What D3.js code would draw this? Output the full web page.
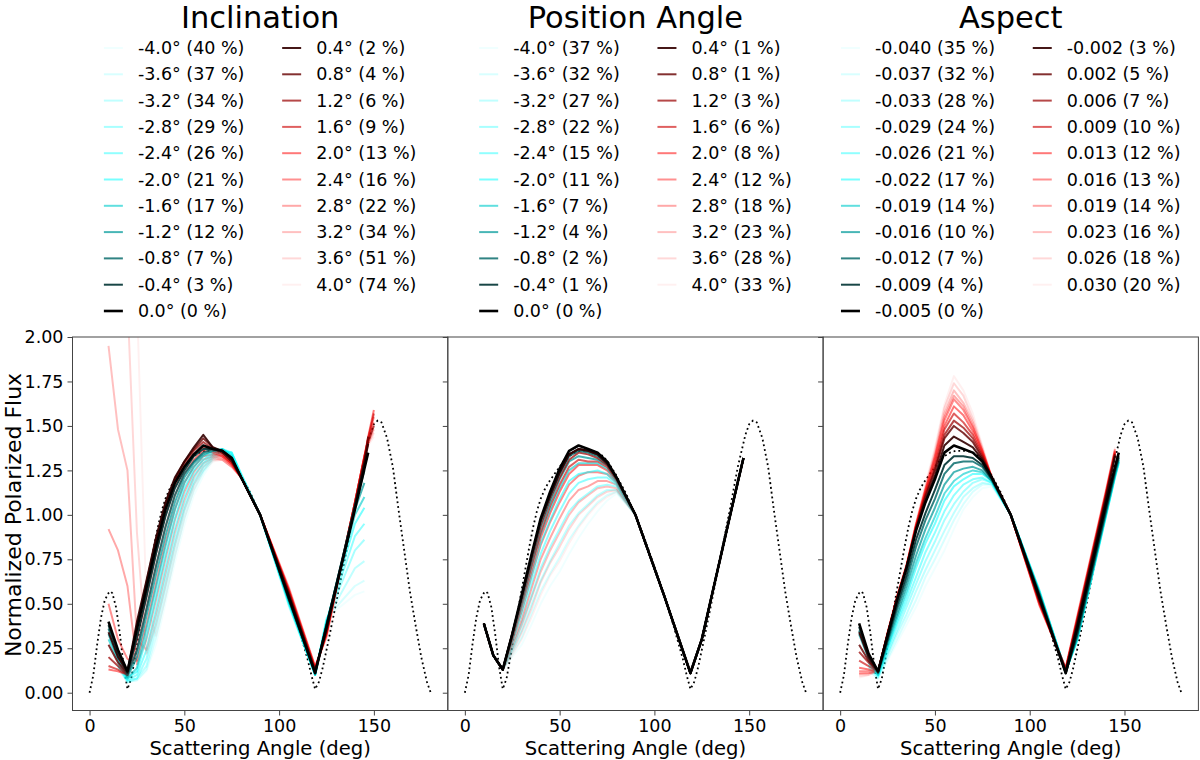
<!DOCTYPE html>
<html><head><meta charset="utf-8">
<script src="https://cdn.jsdelivr.net/npm/d3@7"></script>
<style>body{margin:0;background:#fff;} svg{display:block;font-family:"DejaVu Sans",sans-serif;}</style>
</head><body>
<svg id="chart" width="1200" height="760"></svg>
<script>
// ---------- data ----------
const angles = [10,15,20,25,30,35,40,45,50,55,60,65,70,75,80,90,105,119,125,140,145,147,150];

const panelTitles = ["Inclination", "Position Angle", "Aspect"];

const inclinationLabels = ["-4.0° (40 %)","-3.6° (37 %)","-3.2° (34 %)","-2.8° (29 %)","-2.4° (26 %)","-2.0° (21 %)","-1.6° (17 %)","-1.2° (12 %)","-0.8° (7 %)","-0.4° (3 %)","0.0° (0 %)",
  "0.4° (2 %)","0.8° (4 %)","1.2° (6 %)","1.6° (9 %)","2.0° (13 %)","2.4° (16 %)","2.8° (22 %)","3.2° (34 %)","3.6° (51 %)","4.0° (74 %)"];
const positionLabels = ["-4.0° (37 %)","-3.6° (32 %)","-3.2° (27 %)","-2.8° (22 %)","-2.4° (15 %)","-2.0° (11 %)","-1.6° (7 %)","-1.2° (4 %)","-0.8° (2 %)","-0.4° (1 %)","0.0° (0 %)",
  "0.4° (1 %)","0.8° (1 %)","1.2° (3 %)","1.6° (6 %)","2.0° (8 %)","2.4° (12 %)","2.8° (18 %)","3.2° (23 %)","3.6° (28 %)","4.0° (33 %)"];
const aspectLabels = ["-0.040 (35 %)","-0.037 (32 %)","-0.033 (28 %)","-0.029 (24 %)","-0.026 (21 %)","-0.022 (17 %)","-0.019 (14 %)","-0.016 (10 %)","-0.012 (7 %)","-0.009 (4 %)","-0.005 (0 %)",
  "-0.002 (3 %)","0.002 (5 %)","0.006 (7 %)","0.009 (10 %)","0.013 (12 %)","0.016 (13 %)","0.019 (14 %)","0.023 (16 %)","0.026 (18 %)","0.030 (20 %)"];

const inclinationFlux = [
 [null,0.14,0.06,0.07,0.12,0.27,0.50,0.73,0.94,1.11,1.22,1.30,1.34,1.35,1.23,1.00,0.49,0.10,0.42,0.55,0.57,null,null],
 [null,0.14,0.06,0.07,0.13,0.31,0.54,0.77,0.98,1.14,1.24,1.31,1.35,1.35,1.23,1.00,0.49,0.10,0.42,0.60,0.63,null,null],
 [null,0.15,0.06,0.08,0.15,0.36,0.59,0.82,1.02,1.17,1.25,1.32,1.36,1.35,1.23,1.00,0.50,0.10,0.41,0.70,0.74,null,null],
 [null,0.15,0.07,0.08,0.19,0.41,0.64,0.86,1.05,1.19,1.27,1.33,1.36,1.35,1.23,1.00,0.50,0.10,0.41,0.80,0.86,null,null],
 [null,0.16,0.07,0.10,0.24,0.47,0.70,0.92,1.10,1.22,1.29,1.34,1.37,1.35,1.22,1.00,0.51,0.10,0.40,0.88,0.95,null,null],
 [null,0.17,0.08,0.12,0.31,0.54,0.77,0.98,1.15,1.25,1.31,1.35,1.37,1.34,1.22,1.00,0.51,0.10,0.40,0.95,1.04,null,null],
 [0.30,0.18,0.08,0.14,0.36,0.59,0.82,1.03,1.18,1.27,1.33,1.36,1.37,1.33,1.21,1.00,0.52,0.10,0.39,1.00,1.10,null,null],
 [0.33,0.19,0.09,0.20,0.43,0.66,0.88,1.07,1.21,1.29,1.34,1.36,1.36,1.32,1.21,1.00,0.52,0.11,0.39,1.03,1.18,null,null],
 [0.36,0.21,0.10,0.24,0.47,0.71,0.93,1.11,1.23,1.30,1.35,1.37,1.36,1.32,1.21,1.00,0.53,0.11,0.38,1.05,1.25,null,null],
 [0.38,0.22,0.11,0.31,0.54,0.78,0.99,1.15,1.25,1.33,1.37,1.37,1.36,1.32,1.21,1.00,0.53,0.11,0.38,1.05,1.29,null,null],
 [0.40,0.24,0.12,0.36,0.59,0.82,1.03,1.18,1.27,1.34,1.39,1.37,1.36,1.32,1.21,1.00,0.54,0.11,0.37,1.03,1.26,1.35,null],
 [0.34,0.20,0.12,0.40,0.63,0.87,1.07,1.21,1.30,1.38,1.45,1.38,1.36,1.31,1.21,1.00,0.55,0.12,0.36,1.04,1.29,1.40,null],
 [0.27,0.17,0.11,0.38,0.62,0.86,1.06,1.20,1.30,1.37,1.43,1.38,1.35,1.30,1.21,1.00,0.56,0.12,0.35,1.05,1.30,1.44,null],
 [0.20,0.15,0.10,0.35,0.59,0.83,1.04,1.19,1.29,1.36,1.41,1.37,1.35,1.30,1.21,1.00,0.57,0.13,0.34,1.06,1.31,1.41,1.50],
 [0.15,0.13,0.10,0.30,0.54,0.78,1.00,1.16,1.27,1.34,1.38,1.36,1.34,1.29,1.21,1.00,0.57,0.13,0.34,1.07,1.32,1.43,1.57],
 [0.13,0.12,0.10,0.24,0.47,0.71,0.93,1.11,1.23,1.31,1.36,1.35,1.33,1.29,1.21,1.00,0.58,0.14,0.33,1.07,1.33,1.44,1.59],
 [0.50,0.30,0.19,0.18,0.38,0.61,0.84,1.03,1.18,1.27,1.33,1.34,1.33,1.28,1.21,1.00,0.58,0.14,0.33,1.07,1.33,1.43,1.55],
 [0.92,0.80,0.60,0.16,0.30,0.52,0.75,0.97,1.13,1.24,1.31,1.33,1.32,1.28,1.21,1.00,0.59,0.14,0.32,1.07,1.33,1.42,1.52],
 [1.95,1.48,1.25,0.30,0.24,0.44,0.67,0.90,1.08,1.21,1.29,1.32,1.31,1.27,1.21,1.00,0.59,0.15,0.32,1.07,1.33,1.40,1.48],
 [3.00,2.60,2.20,0.90,0.22,0.38,0.60,0.83,1.03,1.17,1.27,1.31,1.31,1.27,1.21,1.00,0.60,0.15,0.31,1.07,1.33,1.40,1.46],
 [3.50,3.00,2.60,2.20,0.50,0.32,0.53,0.77,0.98,1.14,1.25,1.30,1.31,1.27,1.21,1.00,0.60,0.15,0.31,1.07,1.32,1.39,1.44]
];

const positionFlux = [
 [0.39,0.21,0.13,0.20,0.27,0.38,0.50,0.60,0.68,0.78,0.87,0.95,1.02,1.08,1.12,1.00,0.55,0.12,0.30,1.00,1.23,1.32,null],
 [0.39,0.21,0.13,0.22,0.31,0.44,0.57,0.67,0.76,0.86,0.94,1.01,1.07,1.11,1.13,1.00,0.55,0.12,0.30,1.00,1.23,1.32,null],
 [0.39,0.21,0.13,0.24,0.35,0.49,0.63,0.74,0.84,0.94,1.01,1.06,1.11,1.14,1.14,1.00,0.55,0.12,0.30,1.00,1.23,1.32,null],
 [0.39,0.21,0.13,0.25,0.39,0.54,0.70,0.82,0.92,1.02,1.08,1.12,1.16,1.17,1.16,1.00,0.55,0.11,0.30,1.00,1.23,1.32,null],
 [0.39,0.21,0.13,0.28,0.44,0.61,0.78,0.91,1.02,1.12,1.18,1.20,1.21,1.21,1.17,1.00,0.55,0.11,0.30,1.00,1.23,1.32,null],
 [0.39,0.21,0.13,0.29,0.47,0.65,0.84,0.97,1.09,1.19,1.23,1.24,1.25,1.23,1.18,1.00,0.55,0.11,0.30,1.00,1.23,1.32,null],
 [0.39,0.21,0.13,0.31,0.50,0.70,0.89,1.03,1.15,1.25,1.29,1.29,1.29,1.26,1.19,1.00,0.55,0.11,0.30,1.00,1.23,1.32,null],
 [0.39,0.21,0.13,0.32,0.52,0.73,0.93,1.07,1.20,1.30,1.33,1.32,1.31,1.28,1.20,1.00,0.55,0.11,0.30,1.00,1.23,1.32,null],
 [0.39,0.21,0.13,0.32,0.54,0.75,0.96,1.10,1.23,1.33,1.36,1.35,1.33,1.29,1.21,1.00,0.55,0.11,0.30,1.00,1.23,1.32,null],
 [0.39,0.21,0.13,0.33,0.54,0.76,0.97,1.11,1.24,1.34,1.37,1.36,1.34,1.29,1.21,1.00,0.55,0.11,0.30,1.00,1.23,1.32,null],
 [0.39,0.21,0.13,0.33,0.55,0.77,0.98,1.13,1.26,1.36,1.39,1.37,1.35,1.30,1.21,1.00,0.55,0.11,0.30,1.00,1.23,1.32,null],
 [0.39,0.21,0.13,0.33,0.54,0.76,0.97,1.11,1.24,1.34,1.37,1.36,1.34,1.29,1.21,1.00,0.55,0.11,0.30,1.00,1.23,1.32,null],
 [0.39,0.21,0.13,0.33,0.54,0.76,0.97,1.11,1.24,1.34,1.37,1.36,1.34,1.29,1.21,1.00,0.55,0.11,0.30,1.00,1.23,1.32,null],
 [0.39,0.21,0.13,0.32,0.53,0.74,0.94,1.09,1.21,1.31,1.35,1.34,1.32,1.28,1.20,1.00,0.55,0.11,0.30,1.00,1.23,1.32,null],
 [0.39,0.21,0.13,0.31,0.51,0.71,0.90,1.05,1.17,1.27,1.31,1.30,1.30,1.27,1.20,1.00,0.55,0.11,0.30,1.00,1.23,1.32,null],
 [0.39,0.21,0.13,0.30,0.49,0.68,0.87,1.01,1.13,1.23,1.28,1.28,1.28,1.25,1.19,1.00,0.55,0.11,0.30,1.00,1.23,1.32,null],
 [0.39,0.21,0.13,0.29,0.46,0.65,0.83,0.96,1.07,1.17,1.22,1.24,1.24,1.23,1.18,1.00,0.55,0.11,0.30,1.00,1.23,1.32,null],
 [0.39,0.21,0.13,0.27,0.41,0.58,0.75,0.87,0.98,1.08,1.14,1.16,1.19,1.19,1.17,1.00,0.55,0.11,0.30,1.00,1.23,1.32,null],
 [0.39,0.21,0.13,0.25,0.38,0.53,0.68,0.80,0.90,1.00,1.07,1.11,1.15,1.16,1.15,1.00,0.55,0.12,0.30,1.00,1.23,1.32,null],
 [0.39,0.21,0.13,0.23,0.34,0.47,0.62,0.73,0.82,0.92,1.00,1.05,1.10,1.13,1.14,1.00,0.55,0.12,0.30,1.00,1.23,1.32,null],
 [0.39,0.21,0.13,0.21,0.30,0.42,0.55,0.66,0.74,0.84,0.93,1.00,1.06,1.10,1.13,1.00,0.55,0.12,0.30,1.00,1.23,1.32,null]
];

const aspectFlux = [
 [null,0.12,0.08,0.18,0.28,0.38,0.48,0.60,0.70,0.80,0.92,1.03,1.10,1.15,1.16,1.00,0.58,0.12,0.29,0.98,1.21,1.29,null],
 [null,0.13,0.08,0.19,0.30,0.41,0.52,0.65,0.75,0.86,0.97,1.06,1.13,1.17,1.17,1.00,0.58,0.12,0.29,0.98,1.21,1.29,null],
 [null,0.14,0.09,0.21,0.33,0.44,0.57,0.69,0.80,0.91,1.01,1.10,1.15,1.18,1.17,1.00,0.58,0.12,0.29,0.98,1.21,1.29,null],
 [null,0.15,0.09,0.22,0.35,0.48,0.61,0.74,0.85,0.97,1.06,1.13,1.18,1.20,1.18,1.00,0.58,0.12,0.29,0.98,1.21,1.29,null],
 [null,0.16,0.10,0.24,0.38,0.51,0.65,0.79,0.90,1.02,1.11,1.17,1.20,1.21,1.18,1.00,0.57,0.12,0.30,0.99,1.22,1.30,null],
 [null,0.17,0.10,0.25,0.40,0.54,0.70,0.84,0.95,1.08,1.16,1.20,1.23,1.23,1.19,1.00,0.57,0.12,0.30,0.99,1.22,1.30,null],
 [null,0.18,0.10,0.26,0.42,0.57,0.73,0.87,0.99,1.12,1.19,1.23,1.25,1.24,1.19,1.00,0.57,0.12,0.30,0.99,1.22,1.30,null],
 [0.33,0.19,0.11,0.28,0.44,0.60,0.77,0.92,1.04,1.17,1.24,1.26,1.27,1.25,1.19,1.00,0.56,0.12,0.31,1.00,1.23,1.31,null],
 [0.35,0.20,0.11,0.29,0.47,0.63,0.82,0.97,1.09,1.23,1.29,1.30,1.30,1.27,1.20,1.00,0.56,0.11,0.32,1.01,1.24,1.32,null],
 [0.37,0.21,0.12,0.30,0.49,0.66,0.86,1.01,1.14,1.28,1.33,1.33,1.32,1.28,1.20,1.00,0.55,0.11,0.33,1.02,1.25,1.33,null],
 [0.39,0.22,0.12,0.32,0.52,0.70,0.91,1.07,1.20,1.35,1.39,1.37,1.35,1.30,1.21,1.00,0.54,0.11,0.36,1.05,1.27,1.35,null],
 [0.34,0.20,0.12,0.33,0.53,0.70,0.92,1.08,1.22,1.39,1.44,1.41,1.38,1.31,1.21,1.00,0.53,0.12,0.38,1.08,1.33,null,null],
 [0.27,0.18,0.12,0.33,0.53,0.71,0.92,1.10,1.25,1.43,1.50,1.46,1.41,1.32,1.21,1.00,0.52,0.12,0.39,1.09,1.34,null,null],
 [0.23,0.17,0.12,0.33,0.53,0.71,0.93,1.11,1.26,1.45,1.53,1.49,1.43,1.33,1.21,1.00,0.52,0.13,0.40,1.10,1.34,null,null],
 [0.18,0.15,0.12,0.33,0.53,0.71,0.93,1.12,1.28,1.48,1.57,1.52,1.45,1.34,1.21,1.00,0.51,0.13,0.40,1.10,1.35,null,null],
 [0.14,0.13,0.12,0.33,0.53,0.71,0.94,1.13,1.30,1.50,1.61,1.56,1.47,1.35,1.21,1.00,0.51,0.13,0.41,1.11,1.35,null,null],
 [0.12,0.12,0.12,0.33,0.54,0.71,0.94,1.14,1.32,1.53,1.65,1.59,1.49,1.36,1.21,1.00,0.50,0.13,0.41,1.11,1.36,null,null],
 [0.11,0.11,0.12,0.33,0.54,0.71,0.94,1.14,1.33,1.55,1.67,1.61,1.50,1.36,1.21,1.00,0.50,0.14,0.42,1.12,1.36,null,null],
 [0.105,0.11,0.12,0.34,0.54,0.72,0.95,1.15,1.34,1.57,1.70,1.63,1.52,1.37,1.21,1.00,0.50,0.14,0.42,1.12,1.37,null,null],
 [0.095,0.10,0.12,0.34,0.54,0.72,0.95,1.16,1.36,1.60,1.74,1.67,1.54,1.38,1.21,1.00,0.49,0.14,0.43,1.13,1.37,null,null],
 [0.085,0.10,0.12,0.34,0.55,0.72,0.96,1.17,1.38,1.62,1.78,1.70,1.57,1.39,1.21,1.00,0.49,0.14,0.43,1.13,1.38,null,null]
];

// reference (dotted) curve
const refAngles = [0,2,4,6,8,10,11,12,14,16,18,20,22,24,26,28,30,32,34,36,38,40,42,44,46,48,50,52,55,58,61,64,67,70,73,76,80,85,90,95,100,105,110,115,117,119,121,123,126,130,135,140,144,148,150,152,154,157,160,163,166,169,172,175,178,180];
const refFlux   = [0,0.10,0.27,0.42,0.52,0.56,0.57,0.56,0.48,0.33,0.15,0.02,0.08,0.20,0.33,0.46,0.58,0.70,0.82,0.93,1.02,1.09,1.14,1.18,1.21,1.24,1.27,1.30,1.33,1.35,1.36,1.36,1.36,1.35,1.33,1.29,1.22,1.12,1.00,0.86,0.71,0.55,0.38,0.19,0.10,0.02,0.06,0.14,0.29,0.50,0.77,1.04,1.27,1.45,1.51,1.53,1.52,1.43,1.27,1.03,0.80,0.57,0.38,0.20,0.06,0];

const xTicks = [0,50,100,150];
const yTicks = [0,0.25,0.5,0.75,1.0,1.25,1.5,1.75,2.0];

// ---------- drawing ----------
const svg = d3.select("#chart");
const panelLeft = 72.5, panelW = 375.3, plotTop = 337, plotBottom = 710.5;
const plotH = plotBottom - plotTop;
const x = d3.scaleLinear().domain([-9, 189]).range([0, panelW]);
const y = d3.scaleLinear().domain([-0.1, 2.0]).range([plotH, 0]);

const panels = [
  {title: panelTitles[0], labels: inclinationLabels, flux: inclinationFlux},
  {title: panelTitles[1], labels: positionLabels, flux: positionFlux},
  {title: panelTitles[2], labels: aspectLabels, flux: aspectFlux}
];

function styleFor(i) {
  const k = Math.abs(i - 10);
  const t = Math.min(1, k / 5);
  const v = Math.round(255 * t);
  const color = i < 10 ? `rgb(0,${v},${v})` : (i > 10 ? `rgb(${v},0,0)` : "#000");
  const opacity = 1 - 0.094 * k;
  return {color, opacity, width: i === 10 ? 2.6 : 2.0};
}

const line = d3.line()
  .defined(d => d[1] !== null)
  .x(d => x(d[0])).y(d => y(d[1]));

panels.forEach((p, pi) => {
  const ox = panelLeft + pi * panelW;
  const g = svg.append("g").attr("transform", `translate(${ox},${plotTop})`);

  const clipId = "clip" + pi;
  svg.append("defs").append("clipPath").attr("id", clipId)
    .append("rect").attr("x", 0).attr("y", 0).attr("width", panelW).attr("height", plotH);

  const plot = g.append("g").attr("clip-path", `url(#${clipId})`);

  // dotted reference
  plot.append("path")
    .datum(refAngles.map((a, j) => [a, refFlux[j]]))
    .attr("d", line)
    .attr("fill", "none").attr("stroke", "#000")
    .attr("stroke-width", 1.8).attr("stroke-dasharray", "1.8,3");

  // series: faint first, black last
  const order = [];
  for (let k = 10; k >= 1; k--) { order.push(10 - k); order.push(10 + k); }
  order.push(10);
  order.forEach(i => {
    const s = styleFor(i);
    plot.append("path")
      .datum(angles.map((a, j) => [a, p.flux[i][j]]))
      .attr("d", line)
      .attr("fill", "none")
      .attr("stroke", s.color)
      .attr("stroke-opacity", s.opacity)
      .attr("stroke-width", s.width)
      .attr("stroke-linejoin", "round");
  });

  // axes
  const xAxis = g.append("g").attr("transform", `translate(0,${plotH})`)
    .call(d3.axisBottom(x).tickValues(xTicks).tickSize(5).tickPadding(4).tickFormat(d3.format("d")));
  const yAxis = g.append("g")
    .call(d3.axisLeft(y).tickValues(yTicks).tickSize(5).tickPadding(4)
      .tickFormat(pi === 0 ? d3.format(".2f") : () => ""));
  [xAxis, yAxis].forEach(a => {
    a.select(".domain").remove();
    a.selectAll(".tick line").attr("stroke", "#444").attr("stroke-width", 1);
    a.selectAll(".tick text").attr("font-size", "17.5px").attr("fill", "#000")
      .attr("font-family", '"DejaVu Sans", sans-serif');
  });

  // spines
  g.append("rect").attr("x", 0).attr("y", 0).attr("width", panelW).attr("height", plotH)
    .attr("fill", "none").attr("stroke", "#444").attr("stroke-width", 1);

  // x label
  g.append("text").attr("x", panelW / 2).attr("y", plotH + 44.5)
    .attr("text-anchor", "middle").attr("font-size", "19.6px").text("Scattering Angle (deg)");

  // title
  svg.append("text").attr("x", ox + panelW / 2).attr("y", 28)
    .attr("text-anchor", "middle").attr("font-size", "30.5px").text(p.title);

  // legend
  const lg = svg.append("g");
  const handle = 19, hgap = 15, colGap = 37.7, row0 = 54, rowH = 26.3;
  const texts = p.labels.map((lab, i) => {
    const col = i <= 10 ? 0 : 1;
    const row = col === 0 ? i : i - 11;
    const t = lg.append("text").attr("font-size", "17.5px").attr("y", row0 + row * rowH).text(lab);
    return {t, col, row, i, w: t.node().getComputedTextLength()};
  });
  const w1 = d3.max(texts.filter(d => d.col === 0), d => d.w);
  const w2 = d3.max(texts.filter(d => d.col === 1), d => d.w);
  const total = handle + hgap + w1 + colGap + handle + hgap + w2;
  const start = ox + panelW / 2 - total / 2;
  texts.forEach(d => {
    const lx = d.col === 0 ? start : start + handle + hgap + w1 + colGap;
    const s = styleFor(d.i);
    const by = row0 + d.row * rowH;
    d.t.attr("x", lx + handle + hgap);
    lg.append("line").attr("x1", lx).attr("x2", lx + handle)
      .attr("y1", by - 6).attr("y2", by - 6)
      .attr("stroke", s.color).attr("stroke-opacity", s.opacity).attr("stroke-width", s.width);
  });
});

// y label
svg.append("text")
  .attr("transform", `translate(20.5,515) rotate(-90)`)
  .attr("text-anchor", "middle").attr("font-size", "22px").text("Normalized Polarized Flux");
</script>
</body></html>
